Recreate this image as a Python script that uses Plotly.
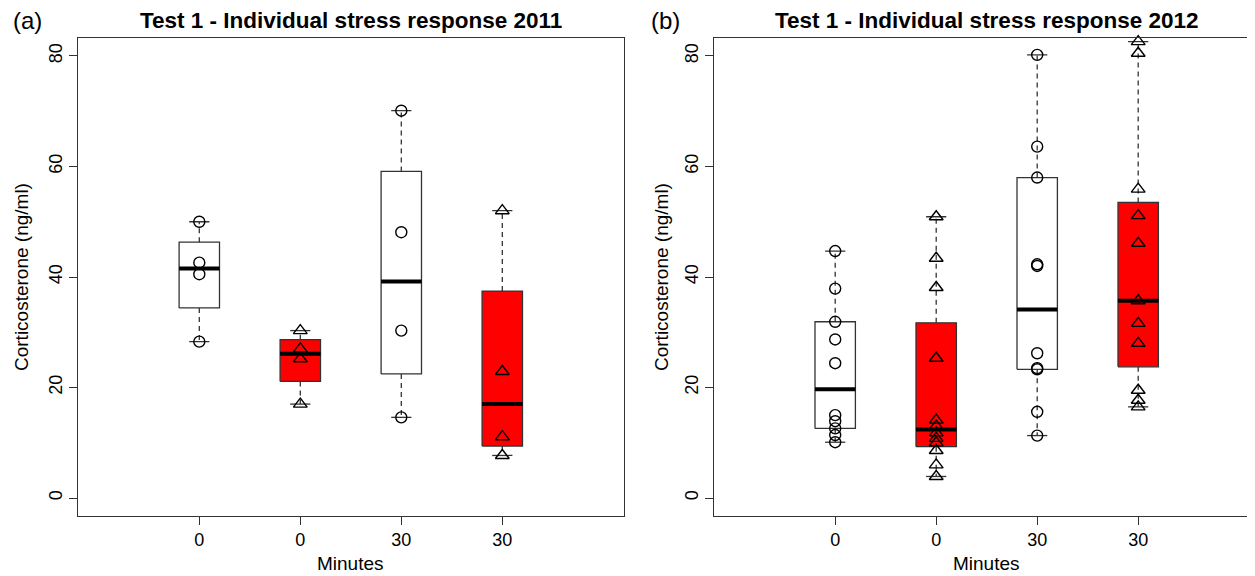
import numpy as np
import plotly.graph_objects as go

# ---------------- data ----------------
group_labels = ["0", "0", "30", "30"]
group_fill = ["white", "#FF0000", "white", "#FF0000"]
group_symbol = ["circle-open", "triangle-up-open", "circle-open", "triangle-up-open"]

# (a) 2011
a_0_ctrl = [28.3, 40.5, 42.6, 50.0]
a_0_trt = [17.0, 25.2, 27.0, 30.3]
a_30_ctrl = [14.6, 30.3, 48.1, 70.1]
a_30_trt = [7.7, 11.1, 22.9, 52.0]

# (b) 2012
b_0_ctrl = [10.1, 11.4, 12.6, 13.9, 15.0, 24.4, 28.7, 31.9, 37.9, 44.7]
b_0_trt = [3.9, 6.0, 8.6, 10.0, 10.8, 11.8, 13.0, 14.1, 25.3, 38.1, 43.4, 50.9]
b_30_ctrl = [11.3, 15.6, 23.3, 23.5, 26.2, 42.0, 42.3, 58.0, 63.6, 80.2]
b_30_trt = [16.5, 17.7, 19.5, 28.0, 31.6, 35.7, 46.1, 51.1, 55.9, 80.5, 82.6]

panel_a = [a_0_ctrl, a_0_trt, a_30_ctrl, a_30_trt]
panel_b = [b_0_ctrl, b_0_trt, b_30_ctrl, b_30_trt]

titles = ["Test 1 - Individual stress response 2011",
          "Test 1 - Individual stress response 2012"]
panel_tags = ["(a)", "(b)"]
y_title = "Corticosterone (ng/ml)"
x_title = "Minutes"
y_ticks = [0, 20, 40, 60, 80]


def fivenum(v):
    x = np.sort(np.asarray(v, dtype=float))
    n = len(x)
    n4 = np.floor((n + 3) / 2) / 2
    d = np.array([1, n4, (n + 1) / 2, n + 1 - n4, n]) - 1
    return 0.5 * (x[np.floor(d).astype(int)] + x[np.ceil(d).astype(int)])


def box_stats(v):
    x = np.asarray(v, dtype=float)
    lo, q1, med, q3, hi = fivenum(x)
    iqr = q3 - q1
    lw = x[x >= q1 - 1.5 * iqr].min()
    uw = x[x <= q3 + 1.5 * iqr].max()
    return lw, q1, med, q3, uw


fig = go.Figure()

FONT = "Liberation Sans, Arial, sans-serif"
LINE = "#333333"
BW = 0.2   # half box width (x units)
SW = 0.1   # half staple width

# page pixel geometry (the page body adds an 8px offset)
OFF = 8
W, H = 1255, 576


def px(v):
    return (v - OFF) / W


def py(v):
    return 1 - (v - OFF) / H


dom_y = [py(515.7), py(38.3)]
dom_x = [[px(78.1), px(623.5)], [px(714.0), px(1255)]]
x_ranges = [[-0.2, 5.2], [-0.2, -0.2 + (1255 - 714.0) / 101.0]]

for p, panel in enumerate([panel_a, panel_b]):
    xa = "x" if p == 0 else "x2"
    ya = "y" if p == 0 else "y2"
    for g, vals in enumerate(panel):
        xc = g + 1
        lw, q1, med, q3, uw = box_stats(vals)
        fig.add_trace(go.Scatter(
            x=[xc - BW, xc + BW, xc + BW, xc - BW, xc - BW],
            y=[q1, q1, q3, q3, q1], mode="lines", fill="toself",
            fillcolor=group_fill[g], line=dict(color=LINE, width=1.3),
            xaxis=xa, yaxis=ya, showlegend=False, hoverinfo="skip"))
        fig.add_trace(go.Scatter(
            x=[xc, xc, None, xc, xc], y=[q3, uw, None, q1, lw], mode="lines",
            line=dict(color=LINE, width=1.3, dash="5px,4px"),
            xaxis=xa, yaxis=ya, showlegend=False, hoverinfo="skip"))
        fig.add_trace(go.Scatter(
            x=[xc - SW, xc + SW, None, xc - SW, xc + SW],
            y=[uw, uw, None, lw, lw], mode="lines",
            line=dict(color=LINE, width=1.3),
            xaxis=xa, yaxis=ya, showlegend=False, hoverinfo="skip"))
        fig.add_trace(go.Scatter(
            x=[xc - BW, xc + BW], y=[med, med], mode="lines",
            line=dict(color="black", width=4),
            xaxis=xa, yaxis=ya, showlegend=False, hoverinfo="skip"))
    for g, vals in enumerate(panel):
        xc = g + 1
        fig.add_trace(go.Scatter(
            x=[xc] * len(vals), y=vals, mode="markers",
            marker=dict(symbol=group_symbol[g], size=11 if "circle" in group_symbol[g] else 12,
                        color="black", line=dict(color="black", width=1.4)),
            cliponaxis=False, xaxis=xa, yaxis=ya, showlegend=False))

axis_common = dict(showgrid=False, zeroline=False, showline=True, linecolor=LINE,
                   linewidth=1.3, ticks="outside", ticklen=8, tickwidth=1.3,
                   tickcolor=LINE, tickfont=dict(family=FONT, size=18, color="black"))

for p in range(2):
    sx = "" if p == 0 else "2"
    fig.update_layout(**{
        "xaxis" + sx: dict(axis_common, domain=dom_x[p], range=x_ranges[p],
                           tickmode="array", tickvals=[1, 2, 3, 4], ticktext=group_labels,
                           mirror=True, anchor="y" + sx),
        "yaxis" + sx: dict(axis_common, domain=dom_y, range=[-3.2, 83.2],
                           tickmode="array", tickvals=y_ticks,
                           ticktext=[str(t) for t in y_ticks], tickangle=-90,
                           mirror=(p == 0), anchor="x" + sx),
    })

ann = []
centers = [px((78.1 + 623.5) / 2), px((714.0 + 1259.4) / 2)]
for p in range(2):
    ann.append(dict(text="<b>" + titles[p] + "</b>", x=centers[p], y=py(21),
                    xref="paper", yref="paper", xanchor="center", yanchor="middle",
                    showarrow=False, font=dict(family=FONT, size=22.5, color="black")))
    ann.append(dict(text=panel_tags[p], x=px(11 if p == 0 else 649), y=py(21),
                    xref="paper", yref="paper", xanchor="left", yanchor="middle",
                    showarrow=False, font=dict(family=FONT, size=24, color="black")))
    ann.append(dict(text=x_title, x=centers[p], y=py(563),
                    xref="paper", yref="paper", xanchor="center", yanchor="middle",
                    showarrow=False, font=dict(family=FONT, size=19, color="black")))
    ann.append(dict(text=y_title, x=px(21 if p == 0 else 661), y=py(277),
                    xref="paper", yref="paper", xanchor="center", yanchor="middle",
                    textangle=-90, showarrow=False,
                    font=dict(family=FONT, size=19, color="black")))

fig.update_layout(width=W, height=H, margin=dict(l=0, r=0, t=0, b=0),
                  paper_bgcolor="white", plot_bgcolor="white", annotations=ann)

fig.write_html("out.html")
